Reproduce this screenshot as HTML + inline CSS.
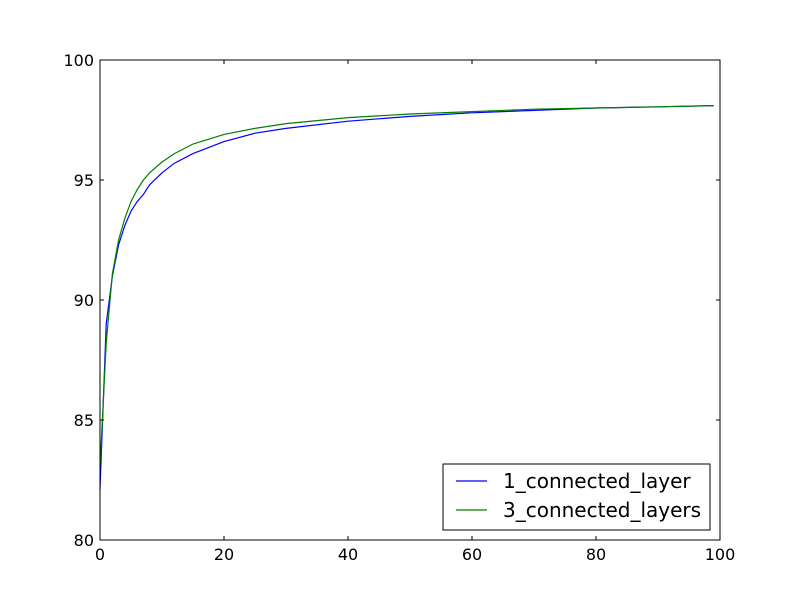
<!DOCTYPE html>
<html><head><meta charset="utf-8"><style>
body{margin:0;background:#fff;}
svg{display:block;font-family:"DejaVu Sans","Liberation Sans",sans-serif;}
</style></head><body>
<svg id="c" width="800" height="600"></svg>
<script>
const epochs1 = [0,1,2,3,4,5,6,7,8,10,12,15,20,25,30,40,50,60,70,80,90,99];
const series1 = [82.1,89.0,91.0,92.3,93.1,93.7,94.1,94.4,94.8,95.3,95.7,96.1,96.6,96.95,97.15,97.45,97.65,97.8,97.9,98.0,98.05,98.1];
const epochs3 = [0,1,2,3,4,5,6,7,8,10,12,15,20,25,30,40,50,60,70,80,90,99];
const series3 = [83.0,88.2,91.1,92.5,93.4,94.1,94.6,95.0,95.3,95.75,96.1,96.5,96.9,97.15,97.35,97.6,97.75,97.85,97.95,98.0,98.05,98.1];
const xTicks = [0,20,40,60,80,100];
const yTicks = [80,85,90,95,100];
const names = ["1_connected_layer","3_connected_layers"];

const NS="http://www.w3.org/2000/svg";
const svg=document.getElementById('c');
const L=100,R=720,T=60,B=540;
const sx=v=>L+(v-0)/(100-0)*(R-L);
const sy=v=>B-(v-80)/(100-80)*(B-T);
function mk(tag,attrs,parent){const e=document.createElementNS(NS,tag);for(const k in attrs)e.setAttribute(k,attrs[k]);(parent||svg).appendChild(e);return e;}

function line(xs,ys,color,name){
  const p=mk('polyline',{points:xs.map((x,i)=>sx(x)+','+sy(ys[i])).join(' '),fill:'none',stroke:color,'stroke-width':1.2});
  
  
}
line(epochs1,series1,'#0000ff','series-1-connected-layer');
line(epochs3,series3,'#008000','series-3-connected-layers');

const frame=mk('rect',{x:L,y:T,width:R-L,height:B-T,fill:'none',stroke:'#000','stroke-width':1});



xTicks.forEach(t=>{
  const x=sx(t);
  mk('line',{x1:x,y1:B,x2:x,y2:B-4,stroke:'#000'});
  mk('line',{x1:x,y1:T,x2:x,y2:T+4,stroke:'#000'});
  const tx=mk('text',{x:x,y:B+20,'text-anchor':'middle','font-size':16});
  tx.textContent=t;
  
  
});
yTicks.forEach(t=>{
  const y=sy(t);
  mk('line',{x1:L,y1:y,x2:L+4,y2:y,stroke:'#000'});
  mk('line',{x1:R,y1:y,x2:R-4,y2:y,stroke:'#000'});
  const tx=mk('text',{x:L-6,y:y+6,'text-anchor':'end','font-size':16});
  tx.textContent=t;
  
  
});

const lg=mk('g',{});


mk('rect',{x:443,y:464,width:267,height:66,fill:'#fff',stroke:'#000'},lg);
[['#0000ff',481],['#008000',510]].forEach((c,i)=>{
  mk('line',{x1:456,y1:c[1],x2:487,y2:c[1],stroke:c[0],'stroke-width':1.2},lg);
  const tx=mk('text',{x:503,y:c[1]+7,'font-size':20},lg);
  tx.textContent=names[i];
  
  
});
</script>
</body></html>
